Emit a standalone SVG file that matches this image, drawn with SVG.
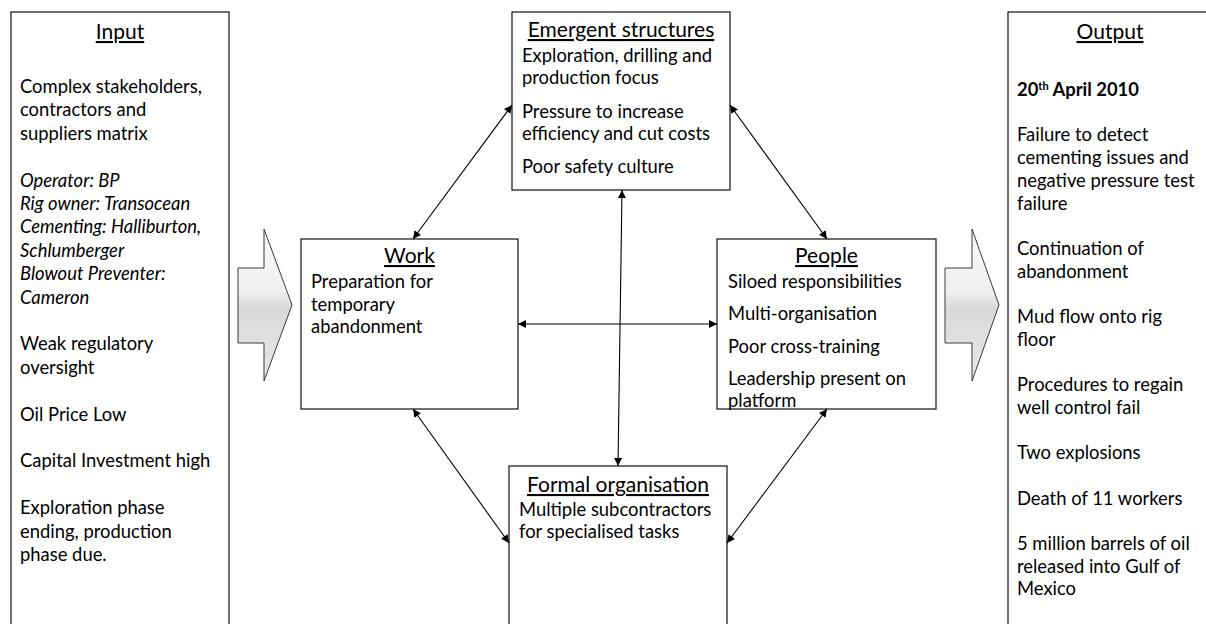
<svg xmlns="http://www.w3.org/2000/svg" width="1206" height="624" viewBox="0 0 1206 624">
<defs>
<style>
text{font-family:Lato,"Liberation Sans",sans-serif;font-size:18.4px;fill:#000}
.t{text-decoration:underline;text-anchor:middle;font-size:21px}
.i{font-style:italic}
.b{font-weight:bold}
.box{fill:#fff;stroke:#111;stroke-width:1.2}
.blk{stroke:#3a3a3a;stroke-width:1;fill:url(#g)}
#connectors line{stroke:#000;stroke-width:1.1;marker-start:url(#ah);marker-end:url(#ah)}
</style>
<linearGradient id="g" x1="0" y1="0" x2="0" y2="1">
<stop offset="0" stop-color="#fbfbfb"/>
<stop offset="0.42" stop-color="#efefef"/>
<stop offset="0.52" stop-color="#d9d9d9"/>
<stop offset="1" stop-color="#e8e8e8"/>
</linearGradient>
<marker id="ah" viewBox="0 0 10 10" refX="10" refY="5" markerWidth="9" markerHeight="8" markerUnits="userSpaceOnUse" orient="auto-start-reverse"><path d="M0,0 L10,5 L0,10 z" fill="#000"/></marker>
</defs>
<rect width="1206" height="624" fill="#fff"/>

<g id="input">
<rect class="box" x="11" y="12" width="218" height="620"/>
<text class="t" x="120" y="39">Input</text>
<text x="20" y="93">Complex stakeholders,</text>
<text x="20" y="116.4">contractors and</text>
<text x="20" y="139.8">suppliers matrix</text>
<text class="i" x="20" y="186.6">Operator: BP</text>
<text class="i" x="20" y="210">Rig owner: Transocean</text>
<text class="i" x="20" y="233.4">Cementing: Halliburton,</text>
<text class="i" x="20" y="256.8">Schlumberger</text>
<text class="i" x="20" y="280.2">Blowout Preventer:</text>
<text class="i" x="20" y="303.6">Cameron</text>
<text x="20" y="350.4">Weak regulatory</text>
<text x="20" y="373.8">oversight</text>
<text x="20" y="420.6">Oil Price Low</text>
<text x="20" y="467.4">Capital Investment high</text>
<text x="20" y="514.2">Exploration phase</text>
<text x="20" y="537.6">ending, production</text>
<text x="20" y="561">phase due.</text>
</g>

<g id="input-arrow">
<polygon class="blk" points="238,268 264,268 264,229 292,305 264,381 264,343 238,343"/>
</g>

<g id="output-arrow">
<polygon class="blk" points="945,268 972,268 972,229 999,305 972,381 972,343 945,343"/>
</g>

<g id="output">
<rect class="box" x="1008" y="12" width="210" height="620"/>
<text class="t" x="1110" y="39">Output</text>
<text class="b" x="1017" y="96">20<tspan font-size="11" dy="-6">th</tspan><tspan dy="6"> April 2010</tspan></text>
<text x="1017" y="141.4">Failure to detect</text>
<text x="1017" y="164.1">cementing issues and</text>
<text x="1017" y="186.8">negative pressure test</text>
<text x="1017" y="209.5">failure</text>
<text x="1017" y="254.9">Continuation of</text>
<text x="1017" y="277.6">abandonment</text>
<text x="1017" y="323">Mud flow onto rig</text>
<text x="1017" y="345.7">floor</text>
<text x="1017" y="391.1">Procedures to regain</text>
<text x="1017" y="413.8">well control fail</text>
<text x="1017" y="459.2">Two explosions</text>
<text x="1017" y="504.6">Death of 11 workers</text>
<text x="1017" y="550">5 million barrels of oil</text>
<text x="1017" y="572.7">released into Gulf of</text>
<text x="1017" y="595.4">Mexico</text>
</g>

<g id="emergent">
<rect class="box" x="512" y="12" width="218" height="178"/>
<text class="t" x="621" y="37">Emergent structures</text>
<text x="522" y="62">Exploration, drilling and</text>
<text x="522" y="84">production focus</text>
<text x="522" y="118">Pressure to increase</text>
<text x="522" y="140">efficiency and cut costs</text>
<text x="522" y="173">Poor safety culture</text>
</g>

<g id="work">
<rect class="box" x="301" y="239" width="217" height="170"/>
<text class="t" x="409.5" y="263">Work</text>
<text x="311" y="288">Preparation for</text>
<text x="311" y="310.7">temporary</text>
<text x="311" y="333.4">abandonment</text>
</g>

<g id="people">
<rect class="box" x="717" y="239" width="219" height="170"/>
<text class="t" x="826.5" y="263">People</text>
<text x="728" y="288">Siloed responsibilities</text>
<text x="728" y="320">Multi-organisation</text>
<text x="728" y="353">Poor cross-training</text>
<text x="728" y="385">Leadership present on</text>
<text x="728" y="407">platform</text>
</g>

<g id="formal">
<rect class="box" x="509" y="466" width="218" height="170"/>
<text class="t" x="618" y="492">Formal organisation</text>
<text x="519" y="516">Multiple subcontractors</text>
<text x="519" y="538">for specialised tasks</text>
</g>

<g id="connectors">
<line x1="512" y1="105" x2="413" y2="239"/>
<line x1="730" y1="105" x2="827" y2="239"/>
<line x1="622" y1="190" x2="618" y2="466"/>
<line x1="518" y1="324" x2="717" y2="324"/>
<line x1="413" y1="409" x2="509" y2="543"/>
<line x1="827" y1="409" x2="727" y2="543"/>
</g>
</svg>
